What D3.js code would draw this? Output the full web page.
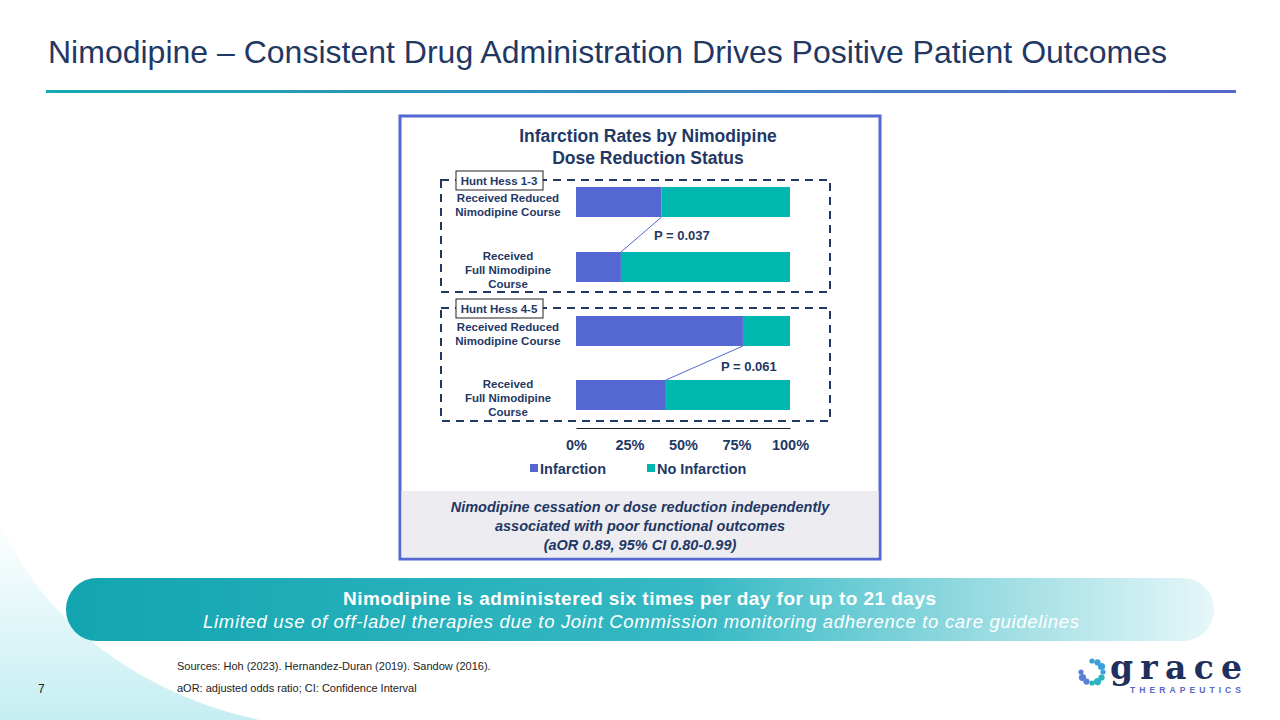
<!DOCTYPE html>
<html><head><meta charset="utf-8">
<script src="https://cdn.jsdelivr.net/npm/d3@7"></script>
<style>body{margin:0;background:#fff;font-family:Arial,"Liberation Sans",sans-serif}</style>
</head><body><svg id="c" width="1280" height="720"></svg>
<script>
const groups = ["Hunt Hess 1-3","Hunt Hess 1-3","Hunt Hess 4-5","Hunt Hess 4-5"];
const categories = ["Received Reduced|Nimodipine Course","Received|Full Nimodipine|Course","Received Reduced|Nimodipine Course","Received|Full Nimodipine|Course"];
const infarction = [0.40, 0.21, 0.78, 0.42];
const noInfarction = [0.60, 0.79, 0.22, 0.58];
const pValues = ["P = 0.037","P = 0.061"];
const ticks = [0,0.25,0.5,0.75,1];

const svg = d3.select("#c");
const navy="#1f3864", blue="#5567d2", teal="#00b8b0";
const defs=svg.append("defs");
const lg=defs.append("linearGradient").attr("id","sw").attr("x1",0).attr("x2",0).attr("y1",0).attr("y2",1);
lg.append("stop").attr("offset",0).attr("stop-color","#ffffff");
lg.append("stop").attr("offset",1).attr("stop-color","#c5eef2");
svg.append("path").attr("d","M0,520 C30,600 120,690 260,720 L0,720 Z").attr("fill","url(#sw)");
const bg=defs.append("linearGradient").attr("id","ban");
bg.append("stop").attr("offset",0).attr("stop-color","#12a5b0");
bg.append("stop").attr("offset",0.55).attr("stop-color","#36b9c4");
bg.append("stop").attr("offset",1).attr("stop-color","#e6f7f9");
const hg=defs.append("linearGradient").attr("id","hl");
hg.append("stop").attr("offset",0).attr("stop-color","#18aab5");
hg.append("stop").attr("offset",1).attr("stop-color","#5567c8");

svg.append("text").attr("x",48).attr("y",63).attr("font-size",32).attr("fill","#1f3864").attr("textLength",1119).text("Nimodipine – Consistent Drug Administration Drives Positive Patient Outcomes");
svg.append("rect").attr("x",46).attr("y",90).attr("width",1190).attr("height",3).attr("fill","url(#hl)");

svg.append("rect").attr("x",400).attr("y",116).attr("width",480).attr("height",443).attr("fill","#fff").attr("stroke",blue).attr("stroke-width",3);
svg.append("rect").attr("x",401.5).attr("y",491).attr("width",477).attr("height",66.5).attr("fill","#ececf1");
["Nimodipine cessation or dose reduction independently","associated with poor functional outcomes","(aOR 0.89, 95% CI 0.80-0.99)"].forEach((t,i)=>
 svg.append("text").attr("x",640).attr("y",512+i*19).attr("text-anchor","middle").attr("font-size",14.5).attr("font-weight","bold").attr("font-style","italic").attr("fill",navy).text(t));

svg.append("text").attr("x",648).attr("y",142).attr("text-anchor","middle").attr("font-size",17.5).attr("font-weight","bold").attr("fill",navy).text("Infarction Rates by Nimodipine");
svg.append("text").attr("x",648).attr("y",164).attr("text-anchor","middle").attr("font-size",17.5).attr("font-weight","bold").attr("fill",navy).text("Dose Reduction Status");

const x=d3.scaleLinear().domain([0,1]).range([576,790]);
const barY=[187,252,316,380], bh=30;
[[180,292],[308,421]].forEach((b,i)=>{
 svg.append("rect").attr("x",441).attr("y",b[0]).attr("width",389).attr("height",b[1]-b[0]).attr("fill","none").attr("stroke",navy).attr("stroke-width",2).attr("stroke-dasharray","8,6");
 svg.append("rect").attr("x",456).attr("y",b[0]-9).attr("width",87).attr("height",19).attr("fill","#fff").attr("stroke","#222").attr("stroke-width",1);
 svg.append("text").attr("x",499).attr("y",b[0]+5).attr("text-anchor","middle").attr("font-size",11.5).attr("font-weight","bold").attr("fill",navy).text(groups[i*2]);
});
infarction.forEach((v,i)=>{
 svg.append("rect").attr("x",x(0)).attr("y",barY[i]).attr("width",x(v)-x(0)).attr("height",bh).attr("fill",blue);
 svg.append("rect").attr("x",x(v)).attr("y",barY[i]).attr("width",x(v+noInfarction[i])-x(v)).attr("height",bh).attr("fill",teal);
 const lines=categories[i].split("|");
 const cy=barY[i]+bh/2 - (lines.length-1)*7;
 lines.forEach((t,j)=>svg.append("text").attr("x",508).attr("y",cy+j*14+7).attr("text-anchor","middle").attr("font-size",11.5).attr("font-weight","bold").attr("fill",navy).text(t));
});
[0,2].forEach((i,k)=>{
 svg.append("line").attr("x1",x(infarction[i])).attr("y1",barY[i]+bh).attr("x2",x(infarction[i+1])).attr("y2",barY[i+1]).attr("stroke",blue).attr("stroke-width",1);
 svg.append("text").attr("x",k==0?654:721).attr("y",k==0?240:371).attr("font-size",13).attr("font-weight","bold").attr("fill",navy).text(pValues[k]);
});
const ax=svg.append("g").attr("transform","translate(0,428)").call(d3.axisBottom(x).tickValues(ticks).tickFormat(d3.format(".0%")).tickSize(0).tickPadding(12));
ax.select(".domain").attr("stroke","#222");
ax.selectAll("text").attr("font-size",14.5).attr("font-weight","bold").attr("fill",navy).attr("font-family","Arial,'Liberation Sans',sans-serif");
[["Infarction",blue,530],["No Infarction",teal,647]].forEach(l=>{
 svg.append("rect").attr("x",l[2]).attr("y",464).attr("width",8).attr("height",8).attr("fill",l[1]);
 svg.append("text").attr("x",l[2]+10).attr("y",474).attr("font-size",14.5).attr("font-weight","bold").attr("fill",navy).text(l[0]);
});

svg.append("rect").attr("x",66).attr("y",578).attr("width",1148).attr("height",63).attr("rx",31).attr("fill","url(#ban)");
svg.append("text").attr("x",343).attr("y",605).attr("font-size",19).attr("font-weight","bold").attr("fill","#fff").attr("textLength",593).text("Nimodipine is administered six times per day for up to 21 days");
svg.append("text").attr("x",203).attr("y",628).attr("font-size",18.5).attr("font-style","italic").attr("fill","#fff").attr("textLength",876).text("Limited use of off-label therapies due to Joint Commission monitoring adherence to care guidelines");

svg.append("text").attr("x",177).attr("y",670).attr("font-size",11).attr("fill","#222").text("Sources: Hoh (2023). Hernandez-Duran (2019). Sandow (2016).");
svg.append("text").attr("x",177).attr("y",692).attr("font-size",11).attr("fill","#222").text("aOR: adjusted odds ratio; CI: Confidence Interval");
svg.append("text").attr("x",38).attr("y",693).attr("font-size",12).attr("fill","#222").text("7");

const lc=[1092,672];
d3.range(10).forEach(i=>{const a=-Math.PI/2+i*Math.PI*2/12;
 svg.append("circle").attr("cx",lc[0]+Math.cos(a)*11).attr("cy",lc[1]+Math.sin(a)*11).attr("r",2.6+(i%3)*0.5).attr("fill",i<4?"#3aa0d8":(i<7?"#2bb3c0":"#5a7fd6"));});
svg.append("text").attr("x",1110).attr("y",679).attr("font-size",33).attr("font-family","'DejaVu Serif',serif").attr("font-weight","bold").attr("fill","#1f2f5e").attr("textLength",132).text("grace");
svg.append("text").attr("x",1130).attr("y",693).attr("font-size",8.5).attr("font-weight","bold").attr("fill","#5567c8").attr("textLength",111).text("THERAPEUTICS");
</script></body></html>
